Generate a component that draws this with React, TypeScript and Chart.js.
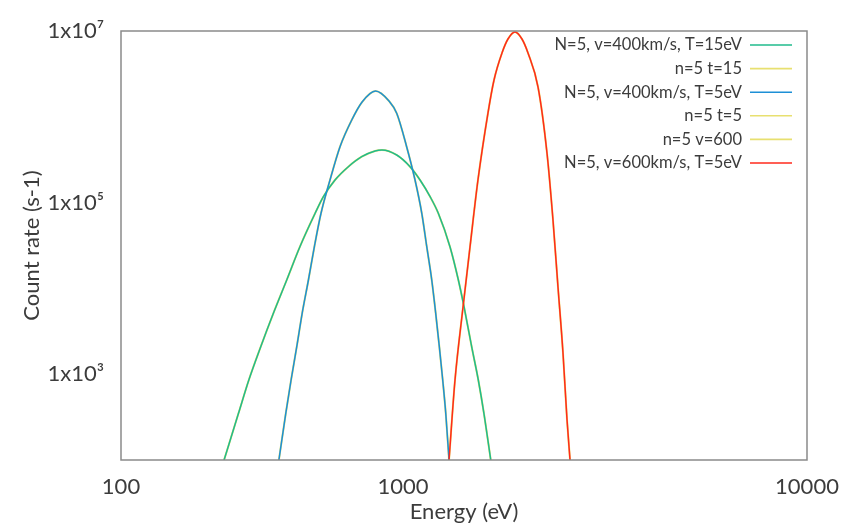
import React, { useEffect, useRef } from 'react';
import { Chart, registerables, LogarithmicScale } from 'chart.js';

Chart.register(...registerables);

// ---- data ----
const seriesLabels = [
  'N=5, v=400km/s, T=15eV',
  'n=5 t=15',
  'N=5, v=400km/s, T=5eV',
  'n=5 t=5',
  'n=5 v=600',
  'N=5, v=600km/s, T=5eV',
];

// v=400 km/s, T=15 eV
const t15Energy = [232, 261, 284, 313, 347, 387, 431, 488, 522, 574, 640, 714, 796, 842, 950, 1041, 1102, 1167, 1223, 1307, 1371, 1416, 1479, 1536, 1586, 1649];
const t15Count = [100, 350, 856, 2092, 5125, 12530, 30620, 75060, 117200, 183400, 262000, 342800, 399500, 410300, 358700, 262000, 183400, 117200, 75060, 30620, 12530, 6118, 2092, 856, 350, 100];

// v=400 km/s, T=5 eV
const t5Energy = [363, 384, 401, 420, 439, 462, 485, 512, 551, 598, 658, 716, 799, 892, 950, 1021, 1071, 1113, 1145, 1178, 1205, 1230, 1254, 1276, 1300];
const t5Count = [100, 350, 856, 2092, 5125, 12530, 30620, 75060, 183400, 448300, 917600, 1487000, 1998000, 1528000, 1099000, 448300, 183400, 75060, 30620, 12530, 5125, 2092, 856, 350, 100];

// v=600 km/s, T=5 eV
const v600Energy = [1300, 1345, 1408, 1465, 1533, 1623, 1680, 1758, 1819, 1893, 1970, 2039, 2159, 2272, 2351, 2419, 2489, 2547, 2591];
const v600Count = [100, 856, 6070, 30370, 183400, 1107000, 2685000, 5542000, 8067000, 9735000, 8067000, 5542000, 2224000, 378500, 62690, 10380, 1766, 292, 100];

const xTickValues = [100, 1000, 10000];
const yTickValues = [1e2, 1e3, 1e4, 1e5, 1e6, 1e7];
const yLabelledExponents = [3, 5, 7];

// ---- styling ----
const YELLOW = '#e8e070';
const COLORS = ['#20bb8d', YELLOW, '#1d8fd6', YELLOW, YELLOW, '#ff2a1c'];
const ORDERS = [2, 3, 1, 3, 3, 0];
const FONT = 'Lato, "Open Sans", sans-serif';
const TEXT = '#3c3c3c';
const SUP: Record<number, string> = { 3: '\u00b3', 5: '\u2075', 7: '\u2077' };

// The printed energy axis gives its first decade less room than its second.
const X_DECADE_WEIGHTS = [282, 404];

class UnevenLogScale extends LogarithmicScale {
  static id = 'unevenLog';
  static defaults = LogarithmicScale.defaults;

  decimalForLog(l: number) {
    const start = Math.log10(this.min);
    let off = l - start;
    const w = X_DECADE_WEIGHTS;
    const total = w.reduce((a, b) => a + b, 0);
    if (off < 0) return (off * w[0]) / total;
    let acc = 0;
    for (let i = 0; i < w.length; i++) {
      if (off <= 1 || i === w.length - 1) return (acc + off * w[i]) / total;
      acc += w[i];
      off -= 1;
    }
    return 1;
  }

  getPixelForValue(value: any) {
    if (value === undefined || value === 0) value = this.min;
    if (value === null || isNaN(value)) return NaN;
    return this.getPixelForDecimal(this.decimalForLog(Math.log10(value)));
  }

  getValueForPixel(pixel: number) {
    const w = X_DECADE_WEIGHTS;
    const total = w.reduce((a, b) => a + b, 0);
    let d = this.getDecimalForPixel(pixel) * total;
    const start = Math.log10(this.min);
    for (let i = 0; i < w.length; i++) {
      if (d <= w[i] || i === w.length - 1) return Math.pow(10, start + i + d / w[i]);
      d -= w[i];
    }
    return this.max;
  }
}
Chart.register(UnevenLogScale);

const toPoints = (xs: number[], ys: number[]) => xs.map((x, i) => ({ x, y: ys[i] }));
const seriesData = [
  toPoints(t15Energy, t15Count),
  toPoints(t15Energy, t15Count),
  toPoints(t5Energy, t5Count),
  toPoints(t5Energy, t5Count),
  toPoints(v600Energy, v600Count),
  toPoints(v600Energy, v600Count),
];

const frameAndLegend = {
  id: 'frameAndLegend',
  afterDatasetsDraw(chart: any) {
    const { ctx, chartArea } = chart;
    ctx.save();
    ctx.strokeStyle = '#8a8a8a';
    ctx.lineWidth = 1.5;
    ctx.strokeRect(chartArea.left, chartArea.top, chartArea.right - chartArea.left, chartArea.bottom - chartArea.top);

    const lineEnd = chartArea.right - 15;
    const lineStart = lineEnd - 42;
    const textRight = lineStart - 8;
    ctx.font = `16.5px ${FONT}`;
    ctx.textAlign = 'right';
    ctx.textBaseline = 'middle';
    chart.data.datasets.forEach((ds: any, i: number) => {
      const y = chartArea.top + 14 + i * 23.6;
      ctx.fillStyle = TEXT;
      ctx.fillText(ds.label, textRight, y);
      ctx.strokeStyle = COLORS[i];
      ctx.lineWidth = 1.6;
      ctx.beginPath();
      ctx.moveTo(lineStart, y);
      ctx.lineTo(lineEnd, y);
      ctx.stroke();
    });
    ctx.restore();
  },
};

export default function App() {
  const ref = useRef<HTMLCanvasElement>(null);

  useEffect(() => {
    if (!ref.current) return;
    const chart = new Chart(ref.current, {
      type: 'line',
      data: {
        datasets: seriesLabels.map((label, i) => ({
          label,
          data: seriesData[i],
          borderColor: COLORS[i],
          backgroundColor: COLORS[i],
          borderWidth: COLORS[i] === YELLOW ? 2.0 : 1.5,
          pointRadius: 0,
          fill: false,
          cubicInterpolationMode: 'monotone' as const,
          order: ORDERS[i],
        })),
      },
      options: {
        animation: false,
        responsive: false,
        devicePixelRatio: 1,
        layout: { padding: { top: 31, right: 38, left: 0, bottom: 0 } },
        plugins: { legend: { display: false }, tooltip: { enabled: false } },
        scales: {
          x: {
            type: 'unevenLog' as any,
            min: 100,
            max: 10000,
            grid: { display: false },
            border: { display: false },
            afterBuildTicks: (s: any) => {
              s.ticks = xTickValues.map((v) => ({ value: v }));
            },
            afterFit: (s: any) => {
              s.height = 72;
            },
            ticks: {
              autoSkip: false,
              maxRotation: 0,
              padding: 6,
              color: TEXT,
              font: { family: FONT, size: 22 },
              callback: (v: any) => String(v),
            },
            title: {
              display: true,
              text: 'Energy (eV)',
              color: TEXT,
              font: { family: FONT, size: 22 },
              padding: { top: 0, bottom: 7 },
            },
          },
          y: {
            type: 'logarithmic',
            min: 100,
            max: 1e7,
            grid: { display: false },
            border: { display: false },
            afterBuildTicks: (s: any) => {
              s.ticks = yTickValues.map((v) => ({ value: v }));
            },
            afterFit: (s: any) => {
              s.width = 121;
            },
            ticks: {
              autoSkip: false,
              padding: 9,
              color: TEXT,
              font: { family: FONT, size: 22 },
              callback: (v: any) => {
                const e = Math.round(Math.log10(Number(v)));
                return yLabelledExponents.includes(e) ? `1x10${SUP[e]}` : '';
              },
            },
            title: {
              display: true,
              text: 'Count rate (s-1)',
              color: TEXT,
              font: { family: FONT, size: 22 },
              padding: { top: 19, bottom: 0 },
            },
          },
        },
      },
      plugins: [frameAndLegend],
    });
    return () => chart.destroy();
  }, []);

  return (
    <div style={{ position: 'fixed', left: 0, top: 0, width: 845, height: 532, background: '#fff' }}>
      <canvas ref={ref} width={845} height={532} style={{ display: 'block', width: 845, height: 532 }} />
    </div>
  );
}
